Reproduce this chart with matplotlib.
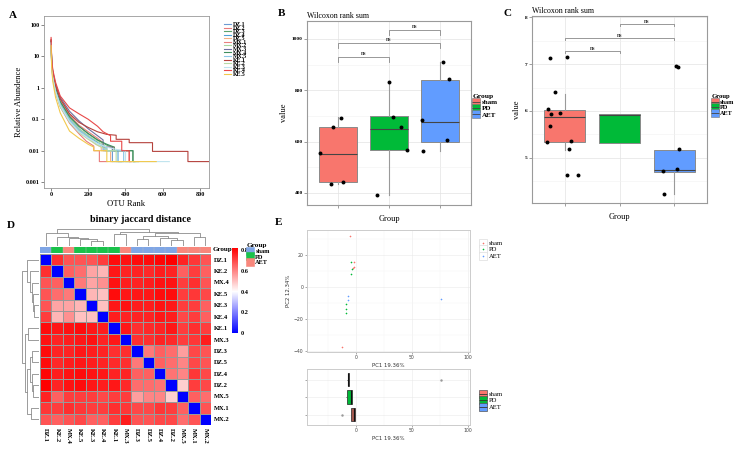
import numpy as np
import matplotlib
matplotlib.use('Agg')
import matplotlib.pyplot as plt
from matplotlib.colors import LinearSegmentedColormap
from matplotlib.lines import Line2D
from matplotlib.ticker import NullLocator

plt.rcParams['font.family'] = ['Liberation Serif', 'DejaVu Serif']
plt.rcParams['font.weight'] = 'bold'
plt.rcParams['axes.linewidth'] = 0.6

W, H = 743, 450
fig = plt.figure(figsize=(7.43, 4.5), dpi=100)


def box(l, t, r, b):
    return fig.add_axes([l / W, 1 - b / H, (r - l) / W, (b - t) / H])


# ---------------- A: rank abundance ----------------
samples = ['DZ.1', 'DZ.2', 'DZ.3', 'DZ.4', 'DZ.5', 'MX.1', 'MX.2', 'MX.3', 'MX.4', 'MX.5',
           'KE.1', 'KE.2', 'KE.3', 'KE.4', 'KE.5']
sample_colors = ['#6C9BD2', '#E87A7A', '#5BA36B', '#4FA3D8', '#F4B183', '#E8807F', '#A9D9A0', '#6F6F9F',
                 '#3E8E5E', '#8CC8E8', '#B5423D', '#B5DBA5', '#BFE4EE', '#E84848', '#F2C94C']
otu_rank = {
    'DZ.1': [1, 4, 10, 25, 50, 100, 150, 200, 250, 280, 280, 330, 330, 390],
    'DZ.2': [1, 4, 10, 25, 50, 100, 150, 190, 230, 230, 260, 260, 300],
    'DZ.3': [1, 4, 10, 25, 50, 100, 150, 200, 250, 300, 330, 330, 440, 440, 470],
    'DZ.4': [1, 4, 10, 25, 50, 100, 150, 200, 250, 290, 290, 360, 360, 380],
    'DZ.5': [1, 4, 10, 25, 50, 100, 150, 200, 240, 270, 270, 320, 320, 330],
    'MX.1': [1, 4, 10, 25, 50, 100, 150, 200, 250, 280, 280, 340, 340, 420, 420, 430],
    'MX.2': [1, 4, 10, 25, 50, 100, 150, 200, 250, 300, 300, 400, 400, 415],
    'MX.3': [1, 4, 10, 25, 50, 100, 150, 200, 250, 280, 280, 330, 330, 345],
    'MX.4': [1, 4, 10, 25, 50, 100, 150, 200, 250, 300, 340, 340, 440, 440, 450],
    'MX.5': [1, 4, 10, 25, 50, 100, 150, 200, 250, 300, 300, 390, 390, 420],
    'KE.1': [1, 4, 10, 25, 50, 100, 150, 200, 250, 300, 350, 350, 420, 420, 545, 545, 735, 735, 848],
    'KE.2': [1, 4, 10, 25, 50, 100, 150, 200, 250, 300, 300, 350, 350, 380],
    'KE.3': [1, 4, 10, 25, 50, 100, 150, 200, 250, 300, 350, 400, 400, 635],
    'KE.4': [1, 4, 10, 25, 50, 100, 150, 200, 250, 280, 320, 320, 380, 380, 420, 420, 430],
    'KE.5': [1, 4, 10, 25, 50, 100, 150, 200, 230, 230, 300, 300, 565],
}
rel_abund = {
    'DZ.1': [30, 7, 2.6, 0.9, 0.33, 0.11, 0.05, 0.03, 0.018, 0.014, 0.01, 0.01, 0.0045, 0.0045],
    'DZ.2': [26, 5.5, 2.1, 0.7, 0.25, 0.075, 0.035, 0.02, 0.014, 0.01, 0.01, 0.0045, 0.0045],
    'DZ.3': [32, 7, 2.8, 1.0, 0.38, 0.13, 0.06, 0.035, 0.022, 0.015, 0.013, 0.01, 0.01, 0.0045, 0.0045],
    'DZ.4': [28, 6, 2.4, 0.85, 0.3, 0.095, 0.045, 0.028, 0.018, 0.013, 0.01, 0.01, 0.0045, 0.0045],
    'DZ.5': [30, 6.5, 2.5, 0.8, 0.28, 0.085, 0.04, 0.025, 0.016, 0.013, 0.01, 0.01, 0.0045, 0.0045],
    'MX.1': [34, 7.5, 3, 1.1, 0.42, 0.14, 0.065, 0.04, 0.025, 0.018, 0.013, 0.013, 0.01, 0.01, 0.0045, 0.0045],
    'MX.2': [30, 6.5, 2.6, 0.9, 0.33, 0.11, 0.05, 0.03, 0.02, 0.013, 0.01, 0.01, 0.0045, 0.0045],
    'MX.3': [32, 8, 3.4, 1.3, 0.5, 0.18, 0.09, 0.05, 0.03, 0.022, 0.013, 0.013, 0.01, 0.01],
    'MX.4': [30, 7, 2.8, 1.0, 0.36, 0.12, 0.06, 0.035, 0.022, 0.016, 0.013, 0.01, 0.01, 0.0045, 0.0045],
    'MX.5': [28, 6, 2.3, 0.8, 0.3, 0.095, 0.045, 0.027, 0.017, 0.012, 0.01, 0.01, 0.0045, 0.0045],
    'KE.1': [35, 8, 3.2, 1.2, 0.45, 0.15, 0.08, 0.055, 0.04, 0.033, 0.031, 0.023, 0.023, 0.018, 0.018,
             0.0095, 0.0095, 0.0045, 0.0045],
    'KE.2': [25, 5.5, 2.0, 0.7, 0.25, 0.08, 0.038, 0.023, 0.015, 0.011, 0.01, 0.01, 0.0045, 0.0045],
    'KE.3': [27, 6, 2.2, 0.75, 0.27, 0.085, 0.04, 0.025, 0.017, 0.013, 0.011, 0.01, 0.0045, 0.0045],
    'KE.4': [40, 9, 3.8, 1.5, 0.55, 0.23, 0.15, 0.1, 0.06, 0.04, 0.03, 0.02, 0.02, 0.01, 0.01, 0.0045, 0.0045],
    'KE.5': [22, 4.5, 1.6, 0.5, 0.16, 0.042, 0.025, 0.016, 0.013, 0.01, 0.01, 0.0045, 0.0045],
}

axA = box(44, 16, 209, 188)
handles = []
for name, col in zip(samples, sample_colors):
    ln, = axA.plot(otu_rank[name], rel_abund[name], color=col, lw=0.8)
    handles.append(ln)
axA.set_yscale('log')
axA.set_xlim(-37, 848)
axA.set_ylim(0.00065, 193)
axA.set_yticks([100, 10, 1, 0.1, 0.01, 0.001])
axA.set_yticklabels(['100', '10', '1', '0.1', '0.01', '0.001'])
axA.yaxis.set_minor_locator(NullLocator())
axA.set_xticks([0, 200, 400, 600, 800])
axA.tick_params(labelsize=4.4, length=2, width=0.5, color='#555', pad=1)
for s in axA.spines.values():
    s.set_color('#999')
axA.set_xlabel('OTU Rank', fontsize=6.2, labelpad=2)
axA.set_ylabel('Relative Abundence', fontsize=6.2, labelpad=2)
fig.legend(handles, samples, loc='upper left', bbox_to_anchor=(221 / W, 1 - 19 / H), fontsize=4.2,
           frameon=False, handlelength=1.2, handletextpad=0.4, labelspacing=-0.26, borderpad=0)
fig.text(13 / W, 1 - 16 / H, 'A', fontsize=8, ha='center', va='center')

# ---------------- B and C: Wilcoxon boxplots ----------------
groups = ['sham', 'PD', 'AET']
group_colors = ['#F8766D', '#00BA38', '#619CFF']

# box stats: (whisker low, q1, median, q3, whisker high)
b_stats = [(435, 442, 553, 656, 694), (392, 566, 649, 700, 833), (562, 600, 678, 842, 912)]
b_pts_x = [[0.86, 1.10, 0.65, 0.90, 1.06], [1.77, 2.35, 2.23, 2.08, 2.00], [2.67, 3.14, 2.65, 3.17, 3.05]]
b_pts_y = [[435, 444, 556, 657, 692], [392, 566, 655, 694, 833], [563, 606, 684, 843, 912]]
b_brackets = [(1, 2, 931), (1, 3, 986), (2, 3, 1035)]

c_stats = [(5.17, 5.33, 5.86, 6.02, 6.36), (5.31, 5.31, 5.91, 5.93, 5.93), (4.22, 4.70, 4.74, 5.17, 5.17)]
c_pts_x = [[0.82, 0.70, 0.73, 1.11, 1.08], [0.72, 1.04, 0.75, 0.91, 0.68, 1.04, 1.25],
           [3.03, 3.07, 3.08, 3.05, 2.79, 2.82]]
c_pts_y = [[6.40, 6.05, 5.68, 5.35, 5.19], [7.14, 7.15, 5.93, 5.95, 5.33, 4.62, 4.62],
           [6.95, 6.94, 5.19, 4.76, 4.72, 4.22]]
c_brackets = [(1, 2, 7.28), (1, 3, 7.56), (2, 3, 7.86)]


def wilcoxon_panel(ax, stats, px, py, brackets, ylim, yticks, yminor, tip):
    bxp = [dict(whislo=s[0], q1=s[1], med=s[2], q3=s[3], whishi=s[4], fliers=[]) for s in stats]
    bp = ax.bxp(bxp, positions=[1, 2, 3], widths=0.75, patch_artist=True, showcaps=False)
    for patch, col in zip(bp['boxes'], group_colors):
        patch.set_facecolor(col)
        patch.set_edgecolor('#8A8A8A')
        patch.set_linewidth(0.7)
    for m in bp['medians']:
        m.set_color('#444')
        m.set_linewidth(0.8)
    for w in bp['whiskers']:
        w.set_color('#9A9A9A')
        w.set_linewidth(0.8)
    for xs, ys in zip(px, py):
        ax.scatter(xs, ys, s=8, color='black', zorder=5, linewidths=0)
    for g1, g2, y in brackets:
        ax.plot([g1, g1, g2, g2], [y - tip, y, y, y - tip], color='#888', lw=0.6)
        ax.text((g1 + g2) / 2, y + tip * 0.15, 'ns', ha='center', va='bottom', fontsize=4.3, color='#444')
    ax.set_xlim(0.4, 3.6)
    ax.set_ylim(*ylim)
    ax.set_xticks([1, 2, 3])
    ax.set_xticklabels([])
    ax.set_yticks(yticks)
    ax.set_yticks(yminor, minor=True)
    ax.tick_params(which='major', labelsize=3.9, length=2, width=0.5, color='#777', pad=1)
    ax.tick_params(which='minor', length=0)
    ax.grid(which='major', color='#E3E3E3', lw=0.5)
    ax.grid(which='minor', axis='y', color='#F1F1F1', lw=0.4)
    ax.set_axisbelow(True)
    for s in ax.spines.values():
        s.set_color('#9A9A9A')
        s.set_linewidth(0.8)
    ax.set_xlabel('Group', fontsize=6, labelpad=4)
    ax.set_ylabel('value', fontsize=6, labelpad=3)
    ax.set_title('Wilcoxon rank sum', fontsize=5.7, loc='left', pad=2)


def group_legend(x, y, colors, boxkey=True, title_size=5.4, size=5.0):
    hs = []
    for c in colors:
        sq = Line2D([], [], marker='s', ms=5.5, mfc=c, mec='#777' if boxkey else c, mew=0.4, ls='')
        if boxkey:
            hs.append((sq, Line2D([], [], marker='_', ms=5.5, color='#444', mew=0.6, ls='')))
        else:
            hs.append(sq)
    fig.legend(hs, groups, loc='upper left', bbox_to_anchor=(x / W, 1 - y / H), fontsize=size,
               title='Group', title_fontproperties={'weight': 'bold', 'size': title_size},
               alignment='left', frameon=False, handlelength=1.0, handletextpad=0.3,
               labelspacing=0.05, borderpad=0, borderaxespad=0)


axB = box(307, 21, 471, 205)
wilcoxon_panel(axB, b_stats, b_pts_x, b_pts_y, b_brackets, (353, 1070), [400, 600, 800, 1000],
               [500, 700, 900], 20)
group_legend(473, 94, group_colors)
fig.text(281 / W, 1 - 14 / H, 'B', fontsize=8, ha='center', va='center')

axC = box(532, 16, 707, 203)
wilcoxon_panel(axC, c_stats, c_pts_x, c_pts_y, c_brackets, (4.03, 8.03), [5, 6, 7, 8],
               [4.5, 5.5, 6.5, 7.5], 0.04)
group_legend(712, 94, group_colors, title_size=4.8, size=4.5)
fig.text(508 / W, 1 - 13 / H, 'C', fontsize=8, ha='center', va='center')

# ---------------- D: binary jaccard heatmap ----------------
hm_labels = ['DZ.1', 'KE.2', 'MX.4', 'KE.5', 'KE.3', 'KE.4', 'KE.1', 'MX.3', 'DZ.3', 'DZ.5', 'DZ.4',
             'DZ.2', 'MX.5', 'MX.1', 'MX.2']
hm_group = ['sham', 'PD', 'AET', 'PD', 'PD', 'PD', 'PD', 'AET', 'sham', 'sham', 'sham', 'sham', 'AET',
            'AET', 'AET']
jaccard = [
    [0, .74, .68, .68, .68, .72, .80, .79, .80, .80, .81, .82, .76, .73, .68],
    [.74, 0, .66, .64, .55, .52, .78, .76, .76, .75, .77, .76, .66, .72, .66],
    [.68, .66, 0, .62, .55, .58, .79, .77, .76, .77, .79, .79, .72, .74, .68],
    [.68, .64, .62, 0, .52, .50, .80, .78, .78, .78, .80, .80, .72, .73, .70],
    [.68, .55, .55, .52, 0, .50, .78, .79, .77, .77, .79, .78, .72, .72, .66],
    [.72, .52, .58, .50, .50, 0, .77, .76, .76, .76, .78, .77, .70, .72, .66],
    [.80, .78, .79, .80, .78, .77, 0, .78, .74, .75, .76, .78, .72, .74, .72],
    [.79, .76, .77, .78, .79, .76, .78, 0, .74, .74, .76, .75, .72, .73, .77],
    [.80, .76, .76, .78, .77, .76, .74, .74, 0, .62, .66, .64, .56, .70, .68],
    [.80, .75, .77, .78, .77, .76, .75, .74, .62, 0, .66, .64, .60, .70, .68],
    [.81, .77, .79, .80, .79, .78, .76, .76, .66, .66, 0, .63, .60, .73, .70],
    [.82, .76, .79, .80, .78, .77, .78, .75, .64, .64, .63, 0, .48, .72, .70],
    [.76, .66, .72, .72, .72, .70, .72, .72, .56, .60, .60, .48, 0, .66, .64],
    [.73, .72, .74, .73, .72, .72, .74, .73, .70, .70, .73, .72, .66, 0, .68],
    [.68, .66, .68, .70, .66, .66, .72, .77, .68, .68, .70, .70, .64, .68, 0],
]
# hierarchical merges (cluster ids after the 15 leaves) and their heights
merges = [(4, 5), (3, 15), (2, 16), (1, 17), (0, 18), (6, 7), (8, 9), (11, 12), (10, 22), (21, 23),
          (13, 14), (24, 25), (20, 26), (19, 27)]
merge_h = [0.30, 0.38, 0.45, 0.52, 0.72, 0.66, 0.40, 0.35, 0.45, 0.55, 0.50, 0.72, 0.82, 1.0]
anno_colors = {'sham': '#7FA6E6', 'PD': '#19C24A', 'AET': '#F8877C'}

n = len(hm_labels)
cmap = LinearSegmentedColormap.from_list('bwr_j', [(0, '#0000FF'), (0.4 / 0.82, '#FFFFFF'), (1, '#FF0000')])
axD = box(40, 254, 211, 425)
mat = np.array(jaccard)
mesh = axD.pcolormesh(mat, cmap=cmap, vmin=0, vmax=0.82, edgecolors='#9A9A9A', linewidth=0.4)
axD.set_xlim(0, n)
axD.set_ylim(n, 0)
axD.set_xticks(np.arange(n) + 0.5)
axD.set_xticklabels(hm_labels, rotation=-90, fontsize=4.7)
axD.set_yticks(np.arange(n) + 0.5)
axD.set_yticklabels(hm_labels, fontsize=4.7)
axD.yaxis.tick_right()
axD.tick_params(length=0, pad=2)
for s in axD.spines.values():
    s.set_visible(False)

axAn = box(40, 247, 211, 253)
anno_rgb = [[matplotlib.colors.to_rgb(anno_colors[g]) for g in hm_group]]
axAn.imshow(anno_rgb, aspect='auto', extent=(0, n, 0, 1))
for k in range(1, n):
    axAn.axvline(k, color='#BBBBBB', lw=0.3)
axAn.set_xticks([])
axAn.set_yticks([])
for s in axAn.spines.values():
    s.set_visible(False)
fig.text(213 / W, 1 - 250 / H, 'Group', fontsize=5, va='center')


def dendrogram(ax, orient):
    pos = {i: i + 0.5 for i in range(n)}
    hgt = {i: 0.0 for i in range(n)}
    for k, ((a, b), h) in enumerate(zip(merges, merge_h)):
        xs = [pos[a], pos[a], pos[b], pos[b]]
        ys = [hgt[a], h, h, hgt[b]]
        if orient == 'top':
            ax.plot(xs, ys, color='#8C8C8C', lw=0.6)
        else:
            ax.plot(ys, xs, color='#8C8C8C', lw=0.6)
        pos[n + k] = (pos[a] + pos[b]) / 2
        hgt[n + k] = h
    ax.axis('off')


axTop = box(40, 228, 211, 246)
dendrogram(axTop, 'top')
axTop.set_xlim(0, n)
axTop.set_ylim(0, 1.03)
axLeft = box(22, 254, 39, 425)
dendrogram(axLeft, 'left')
axLeft.set_ylim(n, 0)
axLeft.set_xlim(1.03, 0)

cax = box(232, 248, 238, 333)
cb = fig.colorbar(mesh, cax=cax, ticks=[0, 0.2, 0.4, 0.6, 0.8])
cb.ax.set_yticklabels(['0', '0.2', '0.4', '0.6', '0.8'])
cb.ax.tick_params(labelsize=4.5, length=0, pad=2)
cb.outline.set_visible(False)

group_legend(247, 243, [anno_colors[g] for g in groups], boxkey=False, title_size=5.2, size=4.6)
fig.text(140 / W, 1 - 219 / H, 'binary jaccard distance', fontsize=7.2, ha='center', va='center')
fig.text(11 / W, 1 - 226 / H, 'D', fontsize=8, ha='center', va='center')

# ---------------- E: PCA ----------------
pc_colors = ['#F8766D', '#00BA38', '#619CFF']
pc1 = [[-5.1, -1.5, -2.4, -2.0, -12.6], [-4.8, -3.3, -4.5, -8.7, -8.7, -9.0], [-6.9, -7.5, 76.3]]
pc2 = [[32.0, 15.4, 11.6, 12.5, -37.5], [15.5, 11.0, 8.0, -10.4, -13.6, -16.0], [-5.9, -8.4, -7.5]]
# horizontal box stats on PC1: (whisker low, q1, median, q3, whisker high, outliers)
pc_box = [(-4.8, -4.6, -2.3, -0.8, -0.6, [-12.6]), (-8.8, -8.1, -4.2, -3.4, -3.3, []),
          (-8.1, -7.6, -7.0, -6.2, -6.0, [76.3])]
pc_box_fill = ['#A65A50', '#00BA38', '#333333']

SANS = 'DejaVu Sans'
axE = box(307, 230, 470, 352)
for xs, ys, c in zip(pc1, pc2, pc_colors):
    axE.scatter(xs, ys, marker='+', s=4, color=c, linewidths=0.4)
axE.set_xlim(-44, 102)
axE.set_ylim(-40.6, 35.6)
axE.set_xticks([0, 50, 100])
axE.set_xticks([-25, 25, 75], minor=True)
axE.set_yticks([-40, -20, 0, 20])
axE.set_yticks([-30, -10, 10, 30], minor=True)
axE.set_xlabel('PC1 19.36%', fontsize=3.9, fontfamily=SANS, fontweight='normal', color='#333', labelpad=2)
axE.set_ylabel('PC2 12.34%', fontsize=3.9, fontfamily=SANS, fontweight='normal', color='#333', labelpad=2)

axE2 = box(307, 369, 470, 425)
bxp = [dict(whislo=s[0], q1=s[1], med=s[2], q3=s[3], whishi=s[4], fliers=s[5]) for s in pc_box]
bp = axE2.bxp(bxp, positions=[1, 2, 3], widths=0.75, vert=False, patch_artist=True, showcaps=False,
              flierprops=dict(marker='.', ms=1.5, mec='#999', mfc='#999'))
for patch, col in zip(bp['boxes'], pc_box_fill):
    patch.set_facecolor(col)
    patch.set_edgecolor('#222')
    patch.set_linewidth(0.5)
for m in bp['medians']:
    m.set_color('#111')
    m.set_linewidth(0.8)
for w in bp['whiskers']:
    w.set_color('#444')
    w.set_linewidth(0.4)
axE2.set_xlim(-44, 102)
axE2.set_ylim(0.4, 3.6)
axE2.set_xticks([0, 50, 100])
axE2.set_xticks([-25, 25, 75], minor=True)
axE2.set_yticks([1, 2, 3])
axE2.set_yticklabels([])
axE2.set_xlabel('PC1 19.36%', fontsize=3.9, fontfamily=SANS, fontweight='normal', color='#333', labelpad=2)

for ax in (axE, axE2):
    ax.tick_params(which='major', labelsize=3.3, length=1.5, width=0.4, color='#666', pad=1,
                   labelcolor='#444')
    ax.tick_params(which='minor', length=0)
    for lab in ax.get_xticklabels() + ax.get_yticklabels():
        lab.set_fontfamily(SANS)
        lab.set_fontweight('normal')
    ax.grid(which='major', color='#EAEAEA', lw=0.4)
    ax.grid(which='minor', color='#F4F4F4', lw=0.3)
    ax.set_axisbelow(True)
    for s in ax.spines.values():
        s.set_color('#CCCCCC')
        s.set_linewidth(0.7)

sc_h = [(Line2D([], [], marker='s', ms=6, mfc='white', mec='#DDDDDD', mew=0.5, ls=''),
         Line2D([], [], marker='+', ms=2, color=c, mew=0.4, ls='')) for c in pc_colors]
fig.legend(sc_h, groups, loc='upper left', bbox_to_anchor=(476 / W, 1 - 237 / H),
           frameon=False, handlelength=1.0, handletextpad=0.4, labelspacing=0.12, borderpad=0,
           prop={'weight': 'normal', 'size': 4.8})
bx_h = [(Line2D([], [], marker='s', ms=6, mfc=c, mec='#555', mew=0.5, ls=''),
         Line2D([], [], marker='_', ms=6, color='#333', mew=0.6, ls='')) for c in pc_colors]
fig.legend(bx_h, groups, loc='upper left', bbox_to_anchor=(476 / W, 1 - 388 / H), frameon=False,
           handlelength=1.0, handletextpad=0.4, labelspacing=0.12, borderpad=0,
           prop={'weight': 'normal', 'size': 4.8})
fig.text(279 / W, 1 - 222 / H, 'E', fontsize=8, ha='center', va='center')

fig.savefig('out.png', dpi=100, facecolor='white')
